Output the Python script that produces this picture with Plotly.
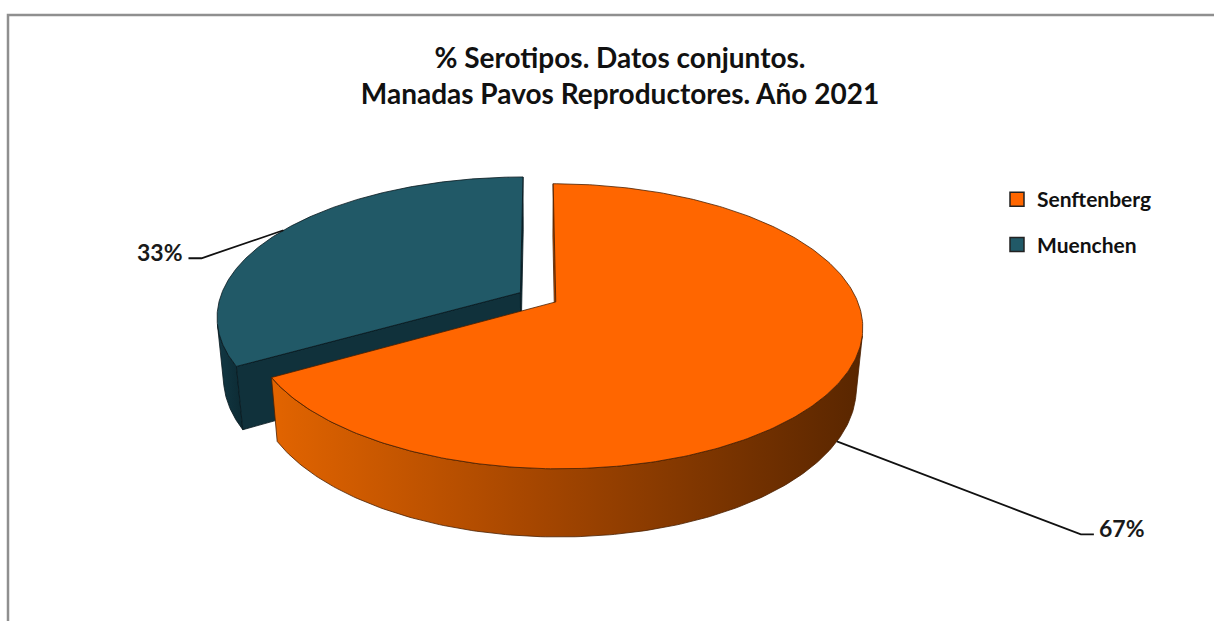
import numpy as np
import plotly.graph_objects as go

# ---------------- data ----------------
categories = ["Senftenberg", "Muenchen"]
values = [2, 1]
title_text = "% Serotipos. Datos conjuntos.<br>Manadas Pavos Reproductores. Año 2021"

# ---------------- style ----------------
top_colors = ["#FF6600", "#215967"]
side_scales = [
    [[0, "#E26400"], [0.45, "#A54600"], [1, "#592600"]],
    [[0, "#123844"], [1, "#0C2A33"]],
]
cut_colors = ["#C45000", "#10313B"]
edge_colors = ["#4A1F00", "#08181E"]
label_offsets = [(244, 93), (-82, 28)]   # elbow offset of leader lines (px)
TAIL = 13

W, H = 1214, 621
CX, CY = 538.0, 297.2          # projected pie centre
F, D = 1570.0, 5.23            # focal length / camera distance (radius = 1)
PHI = np.radians(27.1)         # elevation
THICK = 0.228                  # pie thickness
EXPLODE = 0.068
CS, SN = np.cos(PHI), np.sin(PHI)
CAM = np.array([0.0, -D * CS, D * SN])


def proj(u, v, h):
    u = np.asarray(u, float)
    v = np.asarray(v, float)
    h = np.asarray(h, float)
    z = D + v * CS - h * SN
    return CX + F * u / z, CY - F * (h * CS + v * SN) / z


def poly(xs, ys, color=None, scale=None, edge="#000", width=0.8):
    xs = list(xs) + [xs[0]]
    ys = list(ys) + [ys[0]]
    kw = dict(x=xs, y=ys, mode="lines", fill="toself",
              line=dict(color=edge, width=width),
              hoverinfo="skip", showlegend=False)
    if scale is not None:
        kw["fillgradient"] = dict(type="horizontal", colorscale=scale)
        kw["fillcolor"] = scale[0][1]
    else:
        kw["fillcolor"] = color
    return go.Scatter(**kw)


total = float(sum(values))
slices = []
cum = 0.0
for i, val in enumerate(values):
    a0 = np.radians(90 - 360 * cum / total)
    cum += val
    a1 = np.radians(90 - 360 * cum / total)
    mid = (a0 + a1) / 2
    slices.append(dict(i=i, a0=a0, a1=a1, mid=mid, val=val))

fig = go.Figure()

# far slices first
for s in sorted(slices, key=lambda s: -np.sin(s["mid"])):
    i = s["i"]
    du, dv = EXPLODE * np.cos(s["mid"]), EXPLODE * np.sin(s["mid"])
    off = np.array([du, dv, 0.0])
    th = np.linspace(s["a0"], s["a1"], 300)

    # outer curved side
    vis = []
    for t in th:
        n = np.array([np.cos(t), np.sin(t), 0.0])
        p = off + n
        vis.append(np.dot(n, CAM - p) > 0)
    vis = np.array(vis)
    runs = []
    start = None
    for k, vflag in enumerate(vis):
        if vflag and start is None:
            start = k
        if (not vflag or k == len(vis) - 1) and start is not None:
            end = k if vflag else k - 1
            runs.append((start, end))
            start = None
    for (a, b) in runs:
        tt = th[a:b + 1]
        xt, yt = proj(du + np.cos(tt), dv + np.sin(tt), 0.0)
        xb, yb = proj(du + np.cos(tt), dv + np.sin(tt), -THICK)
        fig.add_trace(poly(np.r_[xt, xb[::-1]], np.r_[yt, yb[::-1]],
                           scale=side_scales[i], edge=edge_colors[i]))

    # radial cut faces
    for ang, n in [(s["a0"], np.array([-np.sin(s["a0"]), np.cos(s["a0"]), 0.0])),
                   (s["a1"], np.array([np.sin(s["a1"]), -np.cos(s["a1"]), 0.0]))]:
        if np.dot(n, CAM - off) > 0:
            uu = [du, du + np.cos(ang), du + np.cos(ang), du]
            vv = [dv, dv + np.sin(ang), dv + np.sin(ang), dv]
            hh = [0, 0, -THICK, -THICK]
            xc, yc = proj(uu, vv, hh)
            fig.add_trace(poly(xc, yc, color=cut_colors[i], edge=edge_colors[i]))

    # top face
    xt, yt = proj(np.r_[du, du + np.cos(th)], np.r_[dv, dv + np.sin(th)], 0.0)
    fig.add_trace(poly(xt, yt, color=top_colors[i], edge=edge_colors[i]))

# leader lines and percentage labels
annotations = []
for s in slices:
    i = s["i"]
    m = s["mid"]
    du, dv = EXPLODE * np.cos(m), EXPLODE * np.sin(m)
    h = 0.0 if np.sin(m) > 0 else -THICK
    ax, ay = proj(du + np.cos(m), dv + np.sin(m), h)
    ax, ay = float(ax), float(ay)
    sign = 1 if np.cos(m) > 0 else -1
    ex, ey = ax + label_offsets[i][0], ay + label_offsets[i][1]
    fig.add_trace(go.Scatter(x=[ax, ex, ex + sign * TAIL], y=[ay, ey, ey],
                             mode="lines", line=dict(color="#111111", width=1.8),
                             hoverinfo="skip", showlegend=False))
    annotations.append(dict(
        x=ex + sign * (TAIL + 3), y=ey - 6, xref="x", yref="y",
        text=f"{round(100 * s['val'] / total)}%", showarrow=False,
        xanchor="left" if sign > 0 else "right", yanchor="middle",
        font=dict(family="Lato", size=23, color="#1a1a1a", weight="bold")))

# legend entries
for i, name in enumerate(categories):
    fig.add_trace(go.Scatter(
        x=[None], y=[None], mode="markers", name=name, legendgroup=name,
        marker=dict(symbol="square", size=14, color=top_colors[i],
                    line=dict(color="#222222", width=1.5))))

fig.update_layout(
    width=W, height=H,
    margin=dict(l=0, r=0, t=0, b=0),
    paper_bgcolor="white", plot_bgcolor="white",
    xaxis=dict(range=[0, W], visible=False, fixedrange=True),
    yaxis=dict(range=[H, 0], visible=False, fixedrange=True),
    title=dict(text=title_text, x=620 / W, xanchor="center",
               y=1 - 68 / H, yanchor="middle", xref="paper", yref="paper",
               font=dict(family="Lato", size=28, color="#111111", weight="bold")),
    showlegend=True,
    legend=dict(x=997 / W, y=1 - 179 / H, xanchor="left", yanchor="top",
                font=dict(family="Lato", size=21, color="#111111", weight="bold"),
                tracegroupgap=15, bgcolor="rgba(0,0,0,0)"),
    annotations=annotations,
    shapes=[dict(type="rect", xref="x", yref="y", x0=8, y0=15, x1=W + 20, y1=H + 20,
                 line=dict(color="#8f8f8f", width=2.5), layer="below")],
)

fig.write_html("out.html", config={"displayModeBar": False},
               post_script="document.body.style.margin='0px';")
